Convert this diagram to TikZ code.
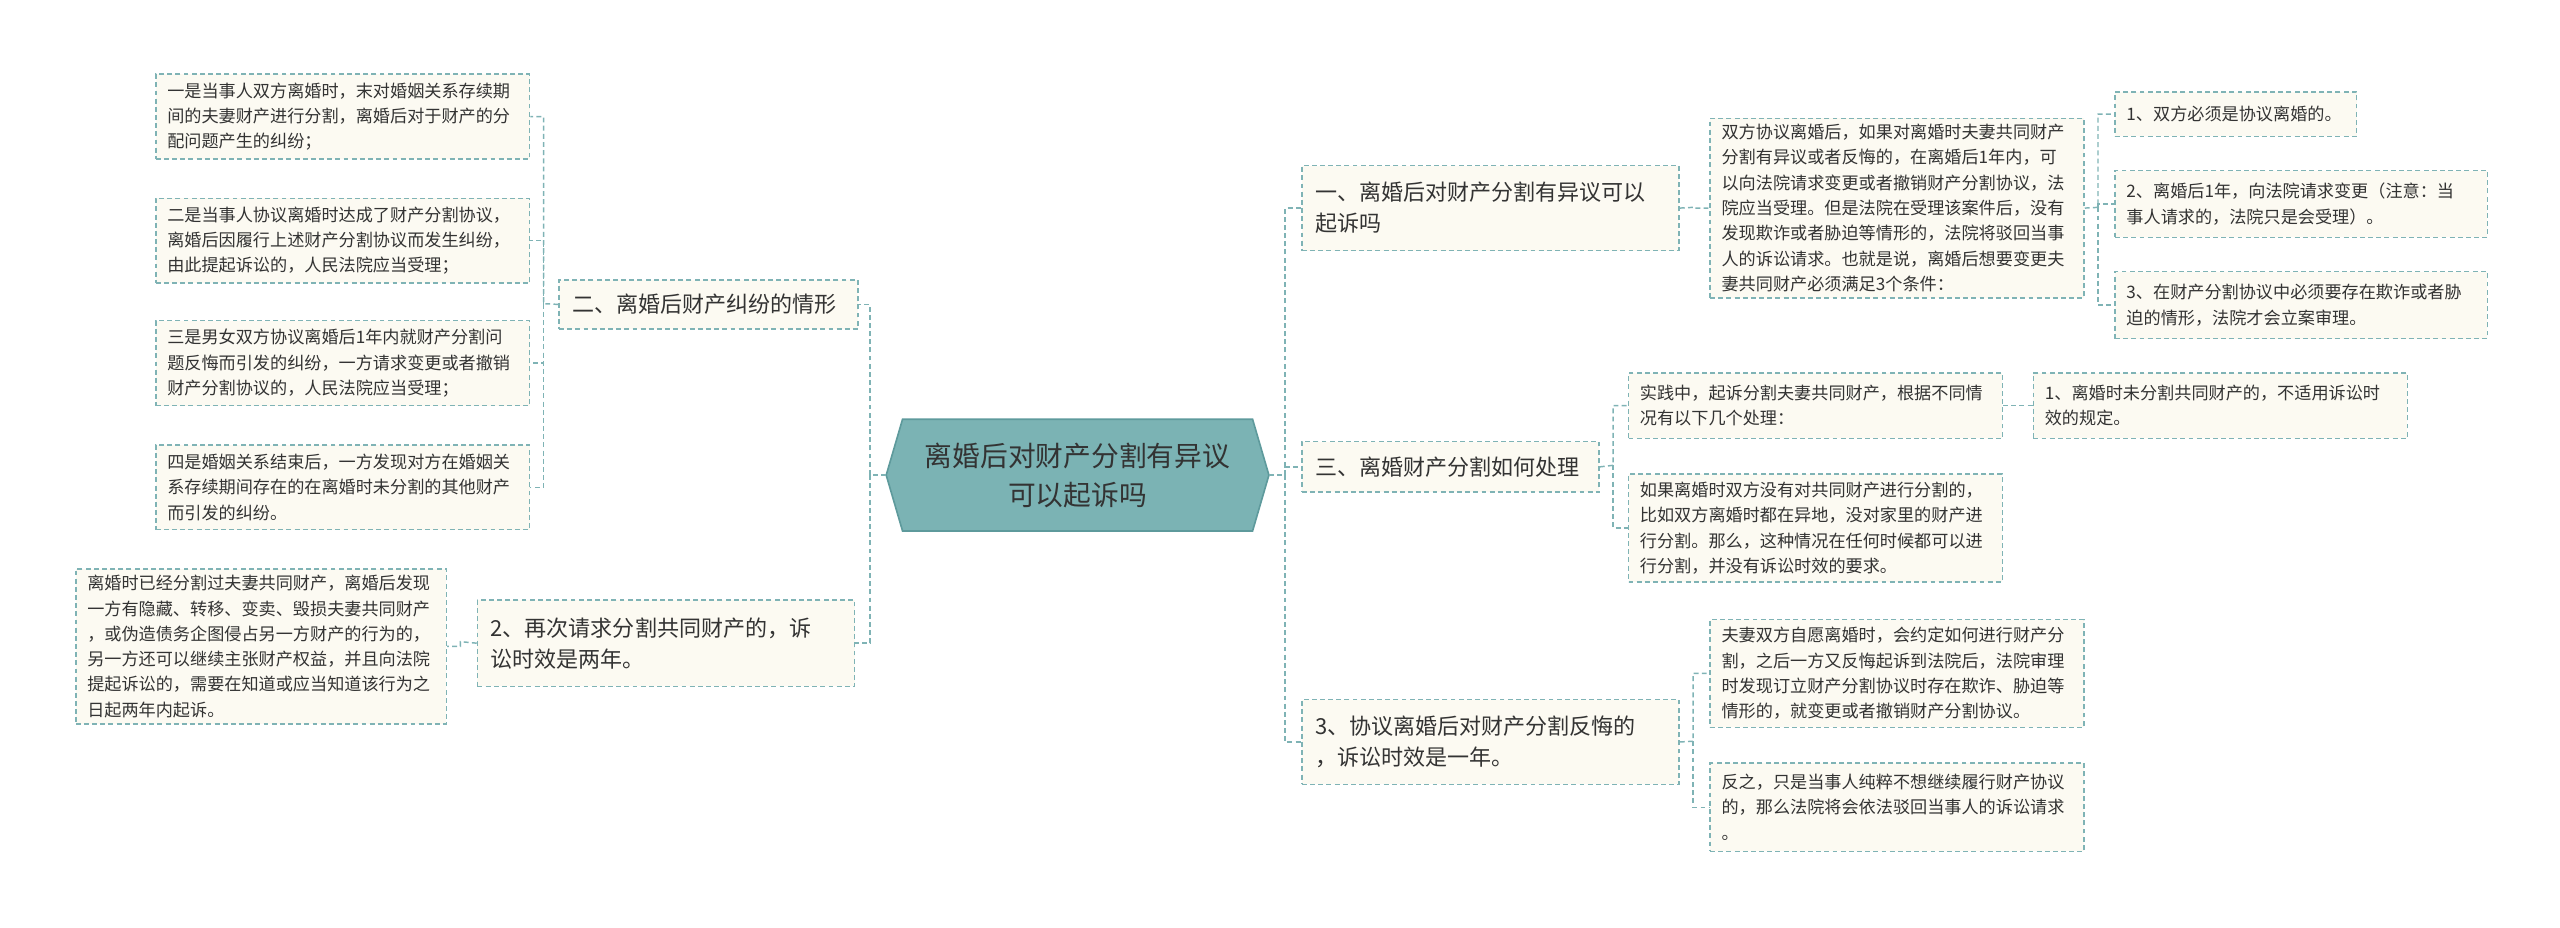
\documentclass[tikz,border=0pt]{standalone}
\usepackage{fontspec}
\setmainfont{Noto Sans CJK SC}
\usetikzlibrary{backgrounds}
\definecolor{bd}{HTML}{7FB3B5}
\definecolor{bg}{HTML}{FCFAF2}
\definecolor{hexf}{HTML}{7BB3B4}
\definecolor{hexd}{HTML}{5E9A9C}
\definecolor{tx}{HTML}{333333}
\tikzset{
  box/.style={draw=bd, fill=bg, line width=0.9pt, dash pattern=on 3pt off 2pt, inner xsep=7pt, inner ysep=3pt, align=left, text=tx, font=\fontsize{10.5}{15.5}\selectfont, anchor=north west},
  lvl/.style={box, font=\fontsize{13.5}{19}\selectfont, inner xsep=8pt},
  conn/.style={draw=bd, line width=0.9pt, dash pattern=on 3pt off 2pt}
}
\begin{document}
\begin{tikzpicture}[x=1pt,y=-1pt]
\useasboundingbox (0,0) rectangle (1568,568);
% center
\node (c) [minimum width=234pt, minimum height=68pt, align=center, text=tx, font=\fontsize{17}{24}\selectfont] at (660,291) {离婚后对财产分割有异议\\可以起诉吗};
\begin{scope}[on background layer]
\draw[draw=hexd, fill=hexf, line width=1pt] ([xshift=10pt]c.north west) -- ([xshift=-10pt]c.north east) -- (c.east) -- ([xshift=-10pt]c.south east) -- ([xshift=10pt]c.south west) -- (c.west) -- cycle;
\end{scope}
% left level 1
\node (L1) [lvl, minimum width=183pt, minimum height=30pt, text width=167pt] at (342,171) {二、离婚后财产纠纷的情形};
\node (L2) [lvl, minimum width=231pt, minimum height=53pt, text width=215pt] at (292,367) {2、再次请求分割共同财产的，诉\\讼时效是两年。};
% left details
\node (D1) [box, minimum width=229pt, minimum height=52pt, text width=215pt] at (95,45) {一是当事人双方离婚时，末对婚姻关系存续期\\间的夫妻财产进行分割，离婚后对于财产的分\\配问题产生的纠纷；};
\node (D2) [box, minimum width=229pt, minimum height=52pt, text width=215pt] at (95,121) {二是当事人协议离婚时达成了财产分割协议，\\离婚后因履行上述财产分割协议而发生纠纷，\\由此提起诉讼的，人民法院应当受理；};
\node (D3) [box, minimum width=229pt, minimum height=52pt, text width=215pt] at (95,196) {三是男女双方协议离婚后1年内就财产分割问\\题反悔而引发的纠纷，一方请求变更或者撤销\\财产分割协议的，人民法院应当受理；};
\node (D4) [box, minimum width=229pt, minimum height=52pt, text width=215pt] at (95,272) {四是婚姻关系结束后，一方发现对方在婚姻关\\系存续期间存在的在离婚时未分割的其他财产\\而引发的纠纷。};
\node (D5) [box, minimum width=227pt, minimum height=95pt, text width=213pt] at (46,348) {离婚时已经分割过夫妻共同财产，离婚后发现\\一方有隐藏、转移、变卖、毁损夫妻共同财产\\，或伪造债务企图侵占另一方财产的行为的，\\另一方还可以继续主张财产权益，并且向法院\\提起诉讼的，需要在知道或应当知道该行为之\\日起两年内起诉。};
% right level 1
\node (R1) [lvl, minimum width=231pt, minimum height=52pt, text width=215pt] at (797,101) {一、离婚后对财产分割有异议可以\\起诉吗};
\node (R2) [lvl, minimum width=182pt, minimum height=31pt, text width=166pt] at (797,270) {三、离婚财产分割如何处理};
\node (R3) [lvl, minimum width=231pt, minimum height=52pt, text width=215pt] at (797,428) {3、协议离婚后对财产分割反悔的\\，诉讼时效是一年。};
% right details
\node (E1) [box, minimum width=229pt, minimum height=110pt, text width=215pt] at (1047,72) {双方协议离婚后，如果对离婚时夫妻共同财产\\分割有异议或者反悔的，在离婚后1年内，可\\以向法院请求变更或者撤销财产分割协议，法\\院应当受理。但是法院在受理该案件后，没有\\发现欺诈或者胁迫等情形的，法院将驳回当事\\人的诉讼请求。也就是说，离婚后想要变更夫\\妻共同财产必须满足3个条件：};
\node (S1) [box, minimum width=148pt, minimum height=27pt, text width=134pt] at (1295,56) {1、双方必须是协议离婚的。};
\node (S2) [box, minimum width=228pt, minimum height=41pt, text width=214pt] at (1295,104) {2、离婚后1年，向法院请求变更（注意：当\\事人请求的，法院只是会受理）。};
\node (S3) [box, minimum width=228pt, minimum height=41pt, text width=214pt] at (1295,166) {3、在财产分割协议中必须要存在欺诈或者胁\\迫的情形，法院才会立案审理。};
\node (T1) [box, minimum width=229pt, minimum height=40pt, text width=215pt] at (997,228) {实践中，起诉分割夫妻共同财产，根据不同情\\况有以下几个处理：};
\node (U1) [box, minimum width=229pt, minimum height=40pt, text width=215pt] at (1245,228) {1、离婚时未分割共同财产的，不适用诉讼时\\效的规定。};
\node (T2) [box, minimum width=229pt, minimum height=66pt, text width=215pt] at (997,290) {如果离婚时双方没有对共同财产进行分割的，\\比如双方离婚时都在异地，没对家里的财产进\\行分割。那么，这种情况在任何时候都可以进\\行分割，并没有诉讼时效的要求。};
\node (V1) [box, minimum width=229pt, minimum height=66pt, text width=215pt] at (1047,379) {夫妻双方自愿离婚时，会约定如何进行财产分\\割，之后一方又反悔起诉到法院后，法院审理\\时发现订立财产分割协议时存在欺诈、胁迫等\\情形的，就变更或者撤销财产分割协议。};
\node (V2) [box, minimum width=229pt, minimum height=54pt, text width=215pt] at (1047,467) {反之，只是当事人纯粹不想继续履行财产协议\\的，那么法院将会依法驳回当事人的诉讼请求\\。};
% spine coordinates
\coordinate (sl) at (533,291);
\coordinate (sr) at (787,291);
\coordinate (s1) at (333,186);
\coordinate (s2) at (282,393);
\coordinate (s3) at (1037,127);
\coordinate (s4) at (1285,127);
\coordinate (s5) at (988,285);
\coordinate (s6) at (1037,454);
\coordinate (s7) at (1235,248);
% connectors
\draw[conn] (c.west) -- (sl) |- (L1.east);
\draw[conn] (sl) |- (L2.east);
\draw[conn] (c.east) -- (sr) |- (R1.west);
\draw[conn] (sr) |- (R2.west);
\draw[conn] (sr) |- (R3.west);
\draw[conn] (L1.west) -- (s1) |- (D1.east);
\draw[conn] (s1) |- (D2.east);
\draw[conn] (s1) |- (D3.east);
\draw[conn] (s1) |- (D4.east);
\draw[conn] (L2.west) -- (s2) |- (D5.east);
\draw[conn] (R1.east) -- (s3) |- (E1.west);
\draw[conn] (E1.east) -- (s4) |- (S1.west);
\draw[conn] (s4) |- (S2.west);
\draw[conn] (s4) |- (S3.west);
\draw[conn] (R2.east) -- (s5) |- (T1.west);
\draw[conn] (s5) |- (T2.west);
\draw[conn] (T1.east) -- (U1.west);
\draw[conn] (R3.east) -- (s6) |- (V1.west);
\draw[conn] (s6) |- (V2.west);
\end{tikzpicture}
\end{document}
